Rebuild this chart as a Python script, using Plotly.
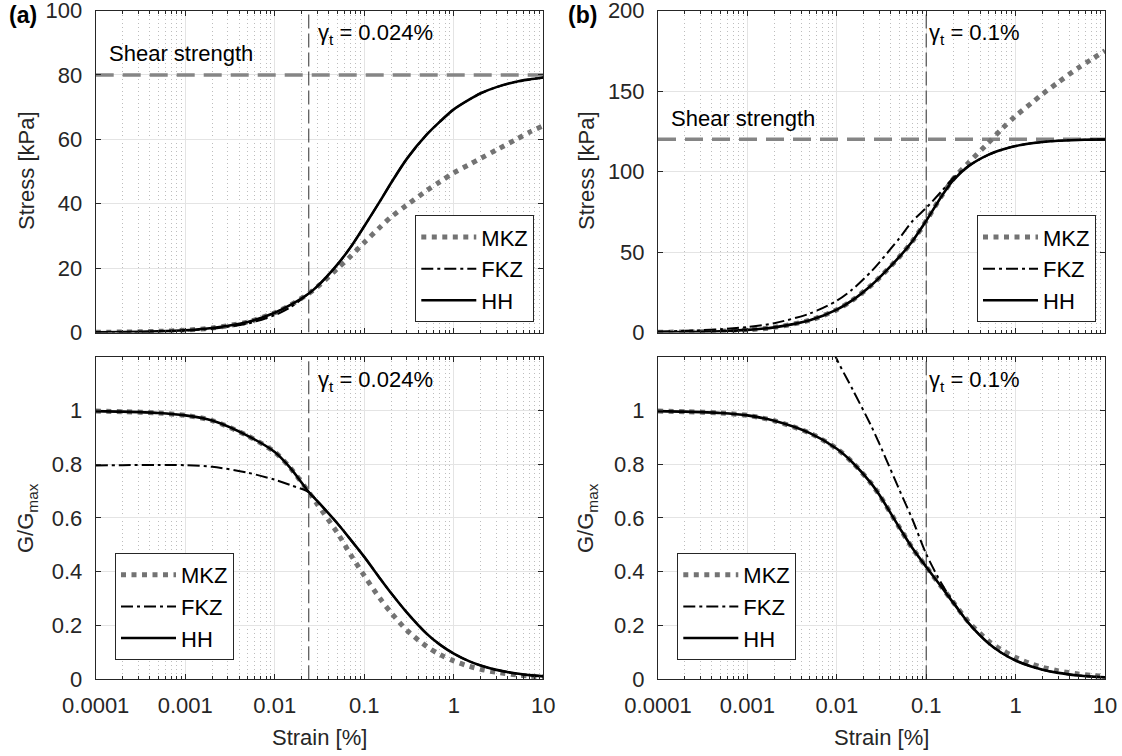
import math
import plotly.graph_objects as go

# ---------------- data ----------------
strain = [0.0001, 0.0002, 0.0005, 0.001, 0.002, 0.005, 0.01, 0.015, 0.024, 0.03,
          0.05, 0.07, 0.1, 0.15, 0.2, 0.3, 0.5, 0.7, 1, 1.5, 2, 3, 5, 7, 10]

# panel (a)
a_stress_mkz = [0.072, 0.144, 0.359, 0.712, 1.40, 3.29, 6.13, 8.55, 12.1, 14.2,
                19.8, 23.6, 27.95, 32.7, 35.9, 39.6, 44.1, 46.8, 49.6, 52.2,
                54.1, 56.7, 60.0, 62.2, 64.2]
a_stress_fkz = [0.058, 0.116, 0.289, 0.578, 1.147, 2.79, 5.39, 7.86, 12.1, 14.4,
                21.1, 26.4, 33.0, 40.8, 46.5, 54.0, 61.5, 65.5, 69.3, 72.4,
                74.3, 76.2, 77.9, 78.6, 79.2]
a_stress_hh = [0.072, 0.144, 0.359, 0.712, 1.40, 3.29, 6.13, 8.55, 12.1, 14.4,
               21.1, 26.4, 33.0, 40.8, 46.5, 54.0, 61.5, 65.5, 69.3, 72.4,
               74.3, 76.2, 77.9, 78.6, 79.2]
a_g_mkz = [0.997, 0.995, 0.990, 0.981, 0.962, 0.905, 0.845, 0.785, 0.696, 0.650,
           0.545, 0.465, 0.385, 0.300, 0.247, 0.182, 0.1215, 0.0921, 0.0683, 0.0479,
           0.0373, 0.0260, 0.0165, 0.0122, 0.0088]
a_g_fkz = [0.795, 0.796, 0.797, 0.796, 0.790, 0.768, 0.742, 0.722, 0.696, 0.662,
           0.580, 0.520, 0.455, 0.375, 0.320, 0.248, 0.169, 0.129, 0.0955, 0.0665,
           0.0512, 0.0350, 0.0215, 0.0155, 0.0109]
a_g_hh = [0.997, 0.995, 0.990, 0.981, 0.962, 0.905, 0.845, 0.785, 0.696, 0.662,
          0.580, 0.520, 0.455, 0.375, 0.320, 0.248, 0.169, 0.129, 0.0955, 0.0665,
          0.0512, 0.0350, 0.0215, 0.0155, 0.0109]

# panel (b)
b_stress_mkz = [0.166, 0.330, 0.822, 1.63, 3.19, 7.59, 14.2, 20.1, 29.1, 34.1,
                46.9, 56.7, 69.4, 85.2, 95.3, 105.6, 118.0, 126.4, 134.5, 142.4,
                148.1, 155.4, 164.3, 169.5, 175.0]
b_stress_fkz = [0.598, 1.01, 2.03, 3.40, 5.78, 11.8, 19.75, 26.8, 37.6, 43.6,
                58.5, 69.1, 77.4, 88.0, 96.0, 103.5, 110.5, 113.5, 115.8, 117.5,
                118.3, 119.1, 119.6, 119.8, 119.9]
b_stress_hh = [0.166, 0.330, 0.822, 1.63, 3.19, 7.59, 14.2, 20.1, 29.1, 34.1,
               46.9, 56.7, 69.4, 85.0, 94.5, 103.5, 110.5, 113.5, 115.8, 117.5,
               118.3, 119.1, 119.6, 119.8, 119.9]
b_g_mkz = [0.997, 0.995, 0.990, 0.981, 0.961, 0.915, 0.857, 0.806, 0.730, 0.685,
           0.565, 0.488, 0.418, 0.342, 0.287, 0.212, 0.142, 0.1088, 0.081, 0.0572,
           0.0446, 0.0312, 0.0198, 0.0146, 0.0105]
b_g_fkz = [3.6, 3.05, 2.45, 2.05, 1.74, 1.42, 1.19, 1.078, 0.945, 0.875,
           0.705, 0.595, 0.466, 0.353, 0.289, 0.208, 0.133, 0.0977, 0.0698, 0.0472,
           0.0356, 0.0239, 0.0144, 0.0103, 0.0072]
b_g_hh = [0.997, 0.995, 0.990, 0.981, 0.961, 0.915, 0.857, 0.806, 0.730, 0.685,
          0.565, 0.488, 0.418, 0.341, 0.285, 0.208, 0.133, 0.0977, 0.0698, 0.0472,
          0.0356, 0.0239, 0.0144, 0.0103, 0.0072]

gamma_t = [0.024, 0.1]
gamma_t_text = ["0.024%", "0.1%"]
shear_strength = [80, 120]
stress_max = [100, 200]
stress_ticks = [[0, 20, 40, 60, 80, 100], [0, 50, 100, 150, 200]]
g_ticks = [0, 0.2, 0.4, 0.6, 0.8, 1]
g_ticktext = ["0", "0.2", "0.4", "0.6", "0.8", "1"]
x_ticks = [0.0001, 0.001, 0.01, 0.1, 1, 10]
x_ticktext = ["0.0001", "0.001", "0.01", "0.1", "1", "10"]
series_names = ["MKZ", "FKZ", "HH"]

# ---------------- styling ----------------
W, H = 1122, 756
FONT = "Liberation Sans, Arial, Helvetica, sans-serif"
AX = "#262626"
MKZ_STYLE = dict(color="#737373", width=5, dash="5px,5.5px")
FKZ_STYLE = dict(color="black", width=2, dash="12px,4px,3px,4px")
HH_STYLE = dict(color="black", width=2.6)
styles = [MKZ_STYLE, FKZ_STYLE, HH_STYLE]


def px_x(p):
    return p / W


def px_y(p):
    return 1 - p / H


# panel boxes in pixels: (left, right, top, bottom)
boxes = {
    1: (95.7, 543.3, 10.5, 332.5),
    2: (658.0, 1105.0, 10.5, 332.5),
    3: (95.7, 543.3, 356.5, 679.3),
    4: (658.0, 1105.0, 356.5, 679.3),
}

fig = go.Figure()

panels = [
    (1, a_stress_mkz, a_stress_fkz, a_stress_hh, 0, "stress"),
    (2, b_stress_mkz, b_stress_fkz, b_stress_hh, 1, "stress"),
    (3, a_g_mkz, a_g_fkz, a_g_hh, 0, "g"),
    (4, b_g_mkz, b_g_fkz, b_g_hh, 1, "g"),
]

for idx, mkz, fkz, hh, col, kind in panels:
    xa = "x" if idx == 1 else f"x{idx}"
    ya = "y" if idx == 1 else f"y{idx}"
    leg = "legend" if idx == 1 else f"legend{idx}"
    ymax = stress_max[col] if kind == "stress" else 1.2
    if kind == "stress":
        fig.add_trace(go.Scatter(
            x=[x_ticks[0], x_ticks[-1]], y=[shear_strength[col]] * 2,
            mode="lines", line=dict(color="#858585", width=3.5, dash="18px,9px"),
            xaxis=xa, yaxis=ya, showlegend=False, hoverinfo="skip"))
    fig.add_trace(go.Scatter(
        x=[gamma_t[col]] * 2, y=[0, ymax], mode="lines",
        line=dict(color="#2e2e2e", width=1, dash="14px,5px"),
        xaxis=xa, yaxis=ya, showlegend=False, hoverinfo="skip"))
    for name, data, st in zip(series_names, [mkz, fkz, hh], styles):
        fig.add_trace(go.Scatter(
            x=strain, y=data, mode="lines", name=name,
            line=dict(shape="spline", smoothing=0.8, **st),
            xaxis=xa, yaxis=ya, legend=leg))

minor_vals = [d * 10.0 ** e for e in range(-4, 1) for d in range(2, 10)]

layout = dict(
    width=W, height=H, margin=dict(l=0, r=0, t=0, b=0, autoexpand=False),
    paper_bgcolor="white", plot_bgcolor="white",
    font=dict(family=FONT, size=22, color=AX),
    showlegend=True,
)

for idx in range(1, 5):
    l, r, t, b = boxes[idx]
    xkey = "xaxis" if idx == 1 else f"xaxis{idx}"
    ykey = "yaxis" if idx == 1 else f"yaxis{idx}"
    xa = "x" if idx == 1 else f"x{idx}"
    ya = "y" if idx == 1 else f"y{idx}"
    col = (idx - 1) % 2
    bottom_row = idx > 2
    layout[xkey] = dict(
        type="log", range=[-4, 1], domain=[px_x(l), px_x(r)], anchor=ya,
        automargin=False,
        tickmode="array", tickvals=x_ticks, ticktext=x_ticktext,
        showticklabels=bottom_row, ticks="inside", ticklen=5, tickcolor=AX,
        showline=True, linecolor=AX, linewidth=1, mirror="ticks",
        showgrid=True, gridcolor="#e4e4e4", gridwidth=1, zeroline=False,
        ticklabelstandoff=6, ticklabeloverflow="allow",
        tickfont=dict(size=22, color=AX, family=FONT),
        minor=dict(tickmode="array", tickvals=minor_vals, ticks="inside", ticklen=3,
                   tickcolor=AX, showgrid=True, gridcolor="#bdbdbd", griddash="1px,3px",
                   gridwidth=1),
    )
    if idx <= 2:
        yd = dict(range=[0, stress_max[col]], tickmode="array", tickvals=stress_ticks[col])
    else:
        yd = dict(range=[0, 1.2], tickmode="array", tickvals=g_ticks, ticktext=g_ticktext)
    layout[ykey] = dict(
        domain=[px_y(b), px_y(t)], anchor=xa, automargin=False,
        ticks="inside", ticklen=5, tickcolor=AX,
        showline=True, linecolor=AX, linewidth=1, mirror="ticks",
        showgrid=True, gridcolor="#e4e4e4", gridwidth=1, zeroline=False,
        ticklabelstandoff=8, ticklabeloverflow="allow",
        tickfont=dict(size=22, color=AX, family=FONT),
        **yd,
    )

legend_common = dict(
    bgcolor="white", bordercolor=AX, borderwidth=1,
    font=dict(size=22, color="black", family=FONT),
    itemwidth=55, traceorder="normal", tracegroupgap=0,
)
layout["legend"] = dict(x=px_x(534.3), y=px_y(322.3), xanchor="right", yanchor="bottom", **legend_common)
layout["legend2"] = dict(x=px_x(1096.0), y=px_y(322.3), xanchor="right", yanchor="bottom", **legend_common)
layout["legend3"] = dict(x=px_x(115.0), y=px_y(660.0), xanchor="left", yanchor="bottom", **legend_common)
layout["legend4"] = dict(x=px_x(677.3), y=px_y(660.0), xanchor="left", yanchor="bottom", **legend_common)

fig.update_layout(**layout)

ann = []
# panel letters
ann.append(dict(text="<b>(a)</b>", x=px_x(7), y=px_y(15), xref="paper", yref="paper",
                xanchor="left", yanchor="middle", showarrow=False,
                font=dict(size=23, color="black", family=FONT)))
ann.append(dict(text="<b>(b)</b>", x=px_x(566), y=px_y(15), xref="paper", yref="paper",
                xanchor="left", yanchor="middle", showarrow=False,
                font=dict(size=23, color="black", family=FONT)))
# axis titles
for cx in [319.5, 881.5]:
    ann.append(dict(text="Strain [%]", x=px_x(cx), y=px_y(737), xref="paper", yref="paper",
                    xanchor="center", yanchor="middle", showarrow=False,
                    font=dict(size=22, color=AX, family=FONT)))
for cx in [27, 587]:
    ann.append(dict(text="Stress [kPa]", x=px_x(cx), y=px_y(171), xref="paper", yref="paper",
                    xanchor="center", yanchor="middle", textangle=-90, showarrow=False,
                    font=dict(size=22, color=AX, family=FONT)))
    ann.append(dict(text="G/G<sub>max</sub>", x=px_x(cx), y=px_y(518), xref="paper", yref="paper",
                    xanchor="center", yanchor="middle", textangle=-90, showarrow=False,
                    font=dict(size=22, color=AX, family=FONT)))
# gamma_t labels and shear strength labels
for idx in range(1, 5):
    col = (idx - 1) % 2
    xa = "x" if idx == 1 else f"x{idx}"
    ya = "y" if idx == 1 else f"y{idx}"
    l, r, t, b = boxes[idx]
    shift = 7 if col == 0 else 1
    ann.append(dict(text="\u03b3<sub>t</sub> = " + gamma_t_text[col],
                    x=math.log10(gamma_t[col]), xref=xa, xshift=shift,
                    y=px_y(t + 8), yref="paper",
                    xanchor="left", yanchor="top", showarrow=False,
                    font=dict(size=22, color="black", family=FONT)))
    if idx <= 2:
        ann.append(dict(text="Shear strength", x=px_x(l + 11), xref="paper",
                        y=shear_strength[col], yref=ya, yshift=21,
                        xanchor="left", yanchor="middle", showarrow=False,
                        font=dict(size=22, color="black", family=FONT)))

fig.update_layout(annotations=ann)
fig.write_html("out.html")
